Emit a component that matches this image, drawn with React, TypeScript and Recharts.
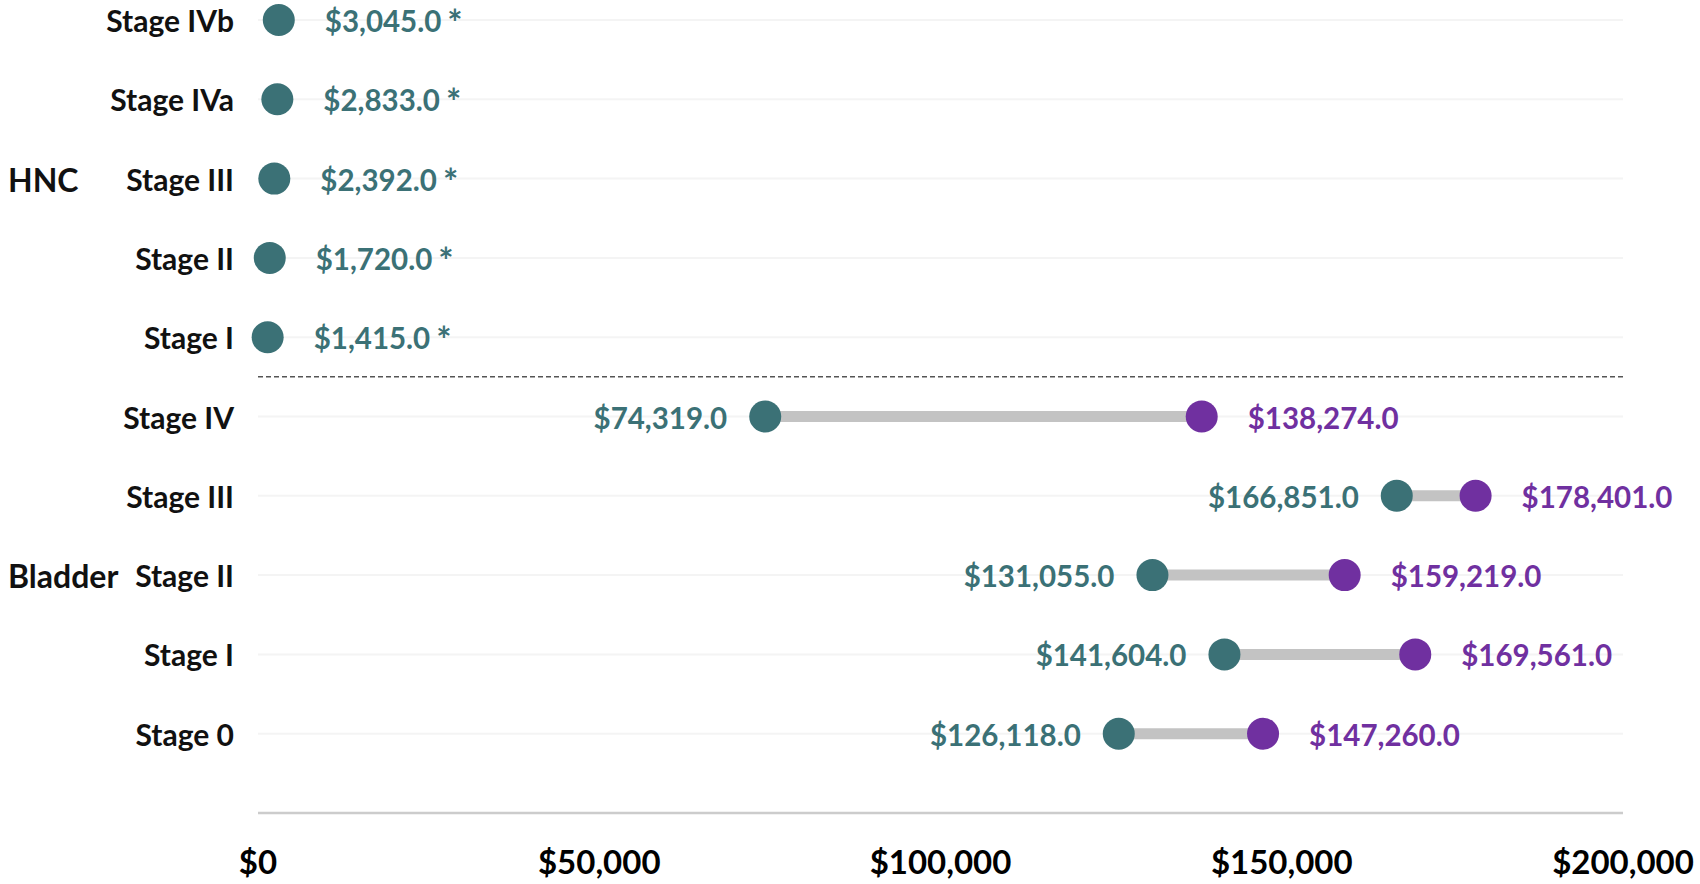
import { ScatterChart, Scatter, XAxis, YAxis, CartesianGrid, ReferenceLine } from 'recharts'

// ── Dumbbell: cost per stage, HNC vs Bladder ───────────────────────────────

const HNC_STAGES   = ['Stage I', 'Stage II', 'Stage III', 'Stage IVa', 'Stage IVb']
const HNC_COST     = [1415, 1720, 2392, 2833, 3045]

const BLADDER_STAGES = ['Stage 0', 'Stage I', 'Stage II', 'Stage III', 'Stage IV']
const BLADDER_LOW    = [126118, 141604, 131055, 166851, 74319]
const BLADDER_HIGH   = [147260, 169561, 159219, 178401, 138274]

const X_TICKS = [0, 50000, 100000, 150000, 200000]

const TEAL   = '#3b7176'
const PURPLE = '#7030a0'
const FONT   = 'Lato, "Open Sans", sans-serif'

// rows bottom→top: bladder 1..5, hnc 6..10
const ROW_LABELS = [...BLADDER_STAGES, ...HNC_STAGES]
const GROUPS = [
  { name: 'Bladder', first: 1, count: BLADDER_STAGES.length },
  { name: 'HNC',     first: 6, count: HNC_STAGES.length },
]
const Y_TICKS = ROW_LABELS.map((_, i) => i + 1)

const money = (v: number, digits = 1) =>
  '$' + v.toLocaleString('en-US', { minimumFractionDigits: digits, maximumFractionDigits: digits })

const tealPoints = [
  ...BLADDER_LOW.map((v, i) => ({ x: v, y: i + 1, text: money(v), star: false, side: 'left' })),
  ...HNC_COST.map((v, i) => ({ x: v, y: i + 6, text: money(v), star: true, side: 'right' })),
]
const purplePoints = BLADDER_HIGH.map((v, i) => ({ x: v, y: i + 1, text: money(v), star: false, side: 'right' }))
const connectors = BLADDER_LOW.map((v, i) => [
  { x: v, y: i + 1 },
  { x: BLADDER_HIGH[i], y: i + 1 },
])

function Dot(color: string) {
  return (p: any) => {
    const { cx, cy, payload } = p
    const left = payload.side === 'left'
    return (
      <g>
        <circle cx={cx} cy={cy} r={16} fill={color} />
        <text x={left ? cx - 38 : cx + 46} y={cy} dy={12} textAnchor={left ? 'end' : 'start'}
              fill={color} fontFamily={FONT} fontWeight={700} fontSize={29.5}>
          {payload.text}
          {payload.star && <tspan dx={6} fontSize={36} dy={4}>*</tspan>}
        </text>
      </g>
    )
  }
}

function RowTick(props: any) {
  const { x, y, payload } = props
  const row = payload.value as number
  const group = GROUPS.find(g => row === g.first + Math.floor(g.count / 2))
  return (
    <g>
      <text x={x} y={y} dy={12} textAnchor="end" fill="#111" fontFamily={FONT} fontWeight={700} fontSize={30}>
        {ROW_LABELS[row - 1]}
      </text>
      {group && (
        <text x={8} y={y} dy={13} textAnchor="start" fill="#111" fontFamily={FONT} fontWeight={700} fontSize={32}>
          {group.name}
        </text>
      )}
    </g>
  )
}

export default function App() {
  return (
    <div style={{ position: 'absolute', left: 0, top: 0, width: 1700, height: 884, background: '#fff' }}>
      <ScatterChart width={1700} height={884} margin={{ top: 20, right: 77, bottom: 0, left: 0 }}>
        <CartesianGrid vertical={false} stroke="#f4f4f4" strokeWidth={2} />
        <XAxis type="number" dataKey="x" domain={[0, 200000]} ticks={X_TICKS} height={71}
               tickFormatter={v => money(v, 0)} tickLine={false} tickSize={0} tickMargin={38}
               axisLine={{ stroke: '#cccccc', strokeWidth: 2.5 }}
               tick={{ fill: '#000', fontSize: 33, fontWeight: 700, fontFamily: FONT }} />
        <YAxis type="number" dataKey="y" domain={[0, 10]} ticks={Y_TICKS} width={258}
               axisLine={false} tickLine={false} tickSize={0} tickMargin={24} tick={<RowTick />} />
        <ReferenceLine y={5.5} stroke="#555" strokeWidth={1.5} strokeDasharray="5 3" />
        {connectors.map((seg, i) => (
          <Scatter key={i} data={seg} line={{ stroke: '#c3c3c3', strokeWidth: 11 }}
                   shape={() => <g />} isAnimationActive={false} legendType="none" />
        ))}
        <Scatter data={tealPoints} shape={Dot(TEAL)} isAnimationActive={false} />
        <Scatter data={purplePoints} shape={Dot(PURPLE)} isAnimationActive={false} />
      </ScatterChart>
    </div>
  )
}
